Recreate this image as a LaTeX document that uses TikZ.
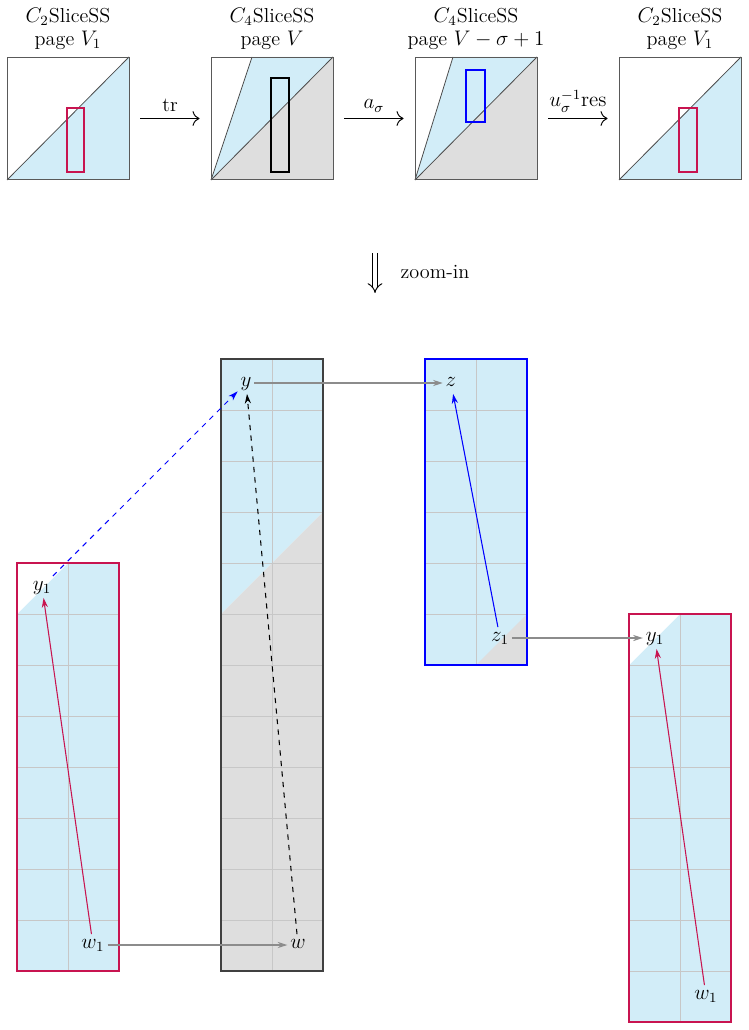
\documentclass[tikz,border=0pt]{standalone}
\usepackage{amsmath}
\usetikzlibrary{arrows.meta,positioning,calc}
\definecolor{sliceblue}{RGB}{210,237,248}
\definecolor{slicegray}{RGB}{222,222,222}
\definecolor{crimson}{RGB}{200,20,80}

\begin{document}
\begin{tikzpicture}[x=0.02cm,y=-0.02cm,
    font=\fontsize{11.5}{13.5}\selectfont,
    bigsq/.style={draw=black!65,line width=0.5pt,minimum size=2.44cm,inner sep=0pt},
    sqline/.style={black!70,line width=0.45pt},
    header/.style={align=center,inner sep=1pt,above=0.1cm of #1},
    maparrow/.style={-{Computer Modern Rightarrow[length=4pt]},line width=0.55pt,shorten <=0.22cm,shorten >=0.22cm},
    cellline/.style={black!22,line width=0.45pt},
    frame/.style={draw=#1,line width=0.6pt},
    lbl/.style={inner sep=1.5pt,text height=1.5ex,text depth=0.6ex},
    shiftarrow/.style={-{Stealth[length=5.5pt,width=3.5pt]},black!45,line width=0.65pt},
    diffarrow/.style={-{Stealth[length=5.5pt,width=3.5pt]},line width=0.6pt}]
  \useasboundingbox (0,0) rectangle (749,1030);

  % top row: the four pages
  \fill[sliceblue] (7,180) -- (129,57) -- (129,180) -- cycle;
  \draw[sqline] (7,180) -- (129,57);
  \draw[frame=crimson] (67,108) rectangle (84,172);
  \node[bigsq] (sq1) at (68,118.5) {};

  \fill[sliceblue] (211,180) -- (252,57) -- (333,57) -- cycle;
  \fill[slicegray] (211,180) -- (333,57) -- (333,180) -- cycle;
  \draw[sqline] (211,180) -- (252,57);
  \draw[sqline] (211,180) -- (333,57);
  \draw[frame=black] (271,78) rectangle (289,172);
  \node[bigsq] (sq2) at (272,118.5) {};

  \fill[sliceblue] (415,180) -- (453,57) -- (537,57) -- cycle;
  \fill[slicegray] (415,180) -- (537,57) -- (537,180) -- cycle;
  \draw[sqline] (415,180) -- (453,57);
  \draw[sqline] (415,180) -- (537,57);
  \draw[frame=blue] (466,70) rectangle (485,122);
  \node[bigsq] (sq3) at (476,118.5) {};

  \fill[sliceblue] (619,180) -- (741,57) -- (741,180) -- cycle;
  \draw[sqline] (619,180) -- (741,57);
  \draw[frame=crimson] (679,108) rectangle (697,172);
  \node[bigsq] (sq4) at (680,118.5) {};

  \node[header=sq1] (h1) {$C_2$SliceSS\\page $V_1$};
  \node[header=sq2] (h2) {$C_4$SliceSS\\page $V$};
  \node[header=sq3] (h3) {$C_4$SliceSS\\page $V-\sigma+1$};
  \node[header=sq4] (h4) {$C_2$SliceSS\\page $V_1$};

  \draw[maparrow] (sq1) -- node[above] {tr} (sq2);
  \draw[maparrow] (sq2) -- node[above] {$a_\sigma$} (sq3);
  \draw[maparrow] (sq3) -- node[above] {$u_\sigma^{-1}\mathrm{res}$} (sq4);

  % zoom-in
  \coordinate (zt) at (375,253);
  \coordinate (zb) at (375,293);
  \draw[double,double distance=2.4pt,line width=0.55pt,-{Implies}] (zt) -- (zb);
  \node (zoomlbl) at (435,272) {zoom-in};

  % left slice
  \fill[sliceblue] (17,563) rectangle (119,971);
  \fill[white] (17,563) -- (68,563) -- (17,614) -- cycle;
  \foreach \r in {1,...,7}
    \draw[cellline] (17,{563+51*\r}) -- (119,{563+51*\r});
  \draw[cellline] (68,563) -- (68,971);
  \draw[frame=crimson] (17,563) rectangle (119,971);

  % middle slice
  \fill[sliceblue] (221,359) -- (323,359) -- (323,512) -- (221,614) -- cycle;
  \fill[slicegray] (221,614) -- (323,512) -- (323,971) -- (221,971) -- cycle;
  \foreach \r in {1,...,11}
    \draw[cellline] (221,{359+51*\r}) -- (323,{359+51*\r});
  \draw[cellline] (272,359) -- (272,971);
  \draw[frame=black!75] (221,359) rectangle (323,971);

  % blue slice
  \fill[sliceblue] (425,359) rectangle (527,665);
  \fill[slicegray] (527,614) -- (527,665) -- (476,665) -- cycle;
  \foreach \r in {1,...,5}
    \draw[cellline] (425,{359+51*\r}) -- (527,{359+51*\r});
  \draw[cellline] (476,359) -- (476,665);
  \draw[frame=blue] (425,359) rectangle (527,665);

  % right slice
  \fill[sliceblue] (629,614) rectangle (731,1022);
  \fill[white] (629,614) -- (680,614) -- (629,665) -- cycle;
  \foreach \r in {1,...,7}
    \draw[cellline] (629,{614+51*\r}) -- (731,{614+51*\r});
  \draw[cellline] (680,614) -- (680,1022);
  \draw[frame=crimson] (629,614) rectangle (731,1022);

  % classes
  \node[lbl] (y1a) at (42,587) {$y_1$};
  \node[lbl] (w1a) at (93,945) {$w_1$};
  \node[lbl] (y) at (246,383) {$y$};
  \node[lbl] (w) at (298,945) {$w$};
  \node[lbl] (z) at (451,383) {$z$};
  \node[lbl] (z1) at (500,638) {$z_1$};
  \node[lbl] (y1b) at (655,638) {$y_1$};
  \node[lbl] (w1b) at (706,996) {$w_1$};

  \draw[shiftarrow] (w1a) -- (w);
  \draw[shiftarrow] (y) -- (z);
  \draw[shiftarrow] (z1) -- (y1b);

  \draw[diffarrow,crimson] (w1a) -- (y1a);
  \draw[diffarrow,dashed] (w) -- (y);
  \draw[diffarrow,blue,dashed] (y1a) -- (y);
  \draw[diffarrow,blue] (z1) -- (z);
  \draw[diffarrow,crimson] (w1b) -- (y1b);
\end{tikzpicture}
\end{document}
